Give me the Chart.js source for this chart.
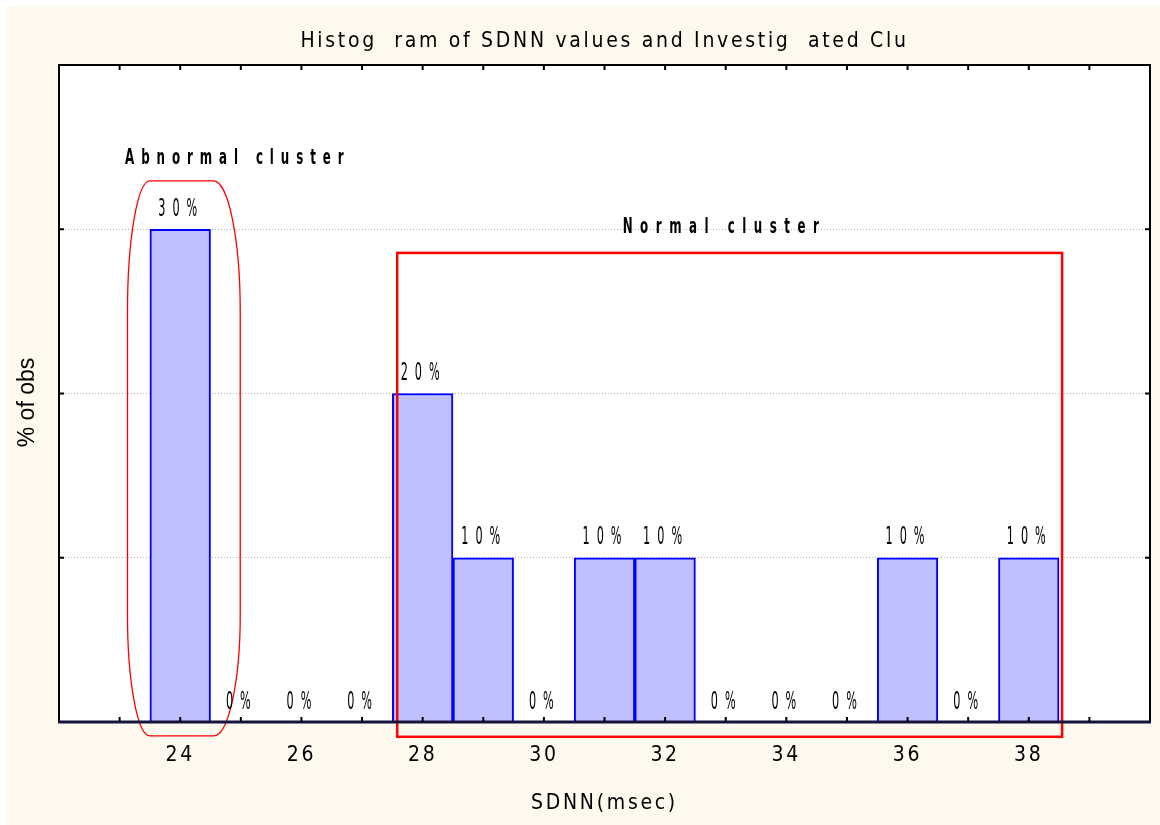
<!DOCTYPE html>
<html>
<head>
<meta charset="utf-8">
<title>SDNN histogram</title>
<script src="https://cdn.jsdelivr.net/npm/chart.js@4.4.1/dist/chart.umd.min.js"></script>
<style>
  html, body { margin: 0; padding: 0; background: #ffffff; }
  #panel {
    position: absolute; left: 7px; top: 6px;
    width: 1153px; height: 819px;
    background: #fdf9ef;
  }
  canvas { display: block; }
</style>
</head>
<body>
<div id="panel"><canvas id="chart" width="1153" height="819"></canvas></div>
<script>
// SDNN bins (msec) and the share of observations falling in each bin
const binCenters = [24, 25, 26, 27, 28, 29, 30, 31, 32, 33, 34, 35, 36, 37, 38];
const percentObs = [30, 0, 0, 0, 20, 10, 0, 10, 10, 0, 0, 0, 10, 0, 10];

// Axis settings
const xRange = [22, 40];
const xTickLabels = [24, 26, 28, 30, 32, 34, 36, 38];
const yRange = [0, 40];
const yGridValues = [10, 20, 30];

// Text
const chartTitle = 'Histog  ram of SDNN values and Investig  ated Clu';
const xAxisTitle = 'SDNN(msec)';
const yAxisTitle = '% of obs';
const abnormalLabel = 'Abnormal cluster';
const normalLabel = 'Normal cluster';

// Cluster outlines, in data units (x = SDNN, y = % of obs)
const abnormalX = [23.13, 23.5, 24.55, 24.99];   // outer left, flat left, flat right, outer right
const abnormalY = [-0.85, 6.5, 25.0, 32.95];     // bottom, lower shoulder, upper shoulder, top
const normalX = [27.58, 38.55];
const normalY = [-0.9, 28.56];
const abnormalLabelPos = [23.09, 34.3];
const normalLabelPos = [31.3, 30.15];

const NARROW = '"Liberation Sans Narrow", "Arial Narrow", "DejaVu Sans Condensed", sans-serif';
const REGULAR = '"Liberation Sans", Arial, sans-serif';

// Tall, squeezed lettering for annotation text
function drawSqueezed(ctx, text, x, y, font, spacing, squeeze, align) {
  ctx.save();
  ctx.font = font;
  ctx.letterSpacing = spacing + 'px';
  ctx.textAlign = align;
  ctx.textBaseline = 'middle';
  ctx.translate(x, y);
  ctx.scale(squeeze, 1);
  ctx.fillText(text, 0, 0);
  ctx.restore();
}

const plotBackground = {
  id: 'plotBackground',
  beforeDraw(chart) {
    const { ctx, chartArea: a } = chart;
    ctx.save();
    ctx.fillStyle = '#ffffff';
    ctx.fillRect(a.left, a.top, a.right - a.left, a.bottom - a.top);
    ctx.restore();
    ctx.letterSpacing = '2.7px';
  }
};

const decorations = {
  id: 'decorations',
  afterDatasetsDraw(chart) {
    const { ctx, chartArea: a, scales: { x, y } } = chart;
    ctx.save();

    // abnormal cluster: rounded capsule around the 24 msec bin
    const xl = x.getPixelForValue(abnormalX[0]), xfl = x.getPixelForValue(abnormalX[1]);
    const xfr = x.getPixelForValue(abnormalX[2]), xr = x.getPixelForValue(abnormalX[3]);
    const yb = y.getPixelForValue(abnormalY[0]), ylo = y.getPixelForValue(abnormalY[1]);
    const yhi = y.getPixelForValue(abnormalY[2]), yt = y.getPixelForValue(abnormalY[3]);
    ctx.beginPath();
    ctx.moveTo(xfl, yt);
    ctx.lineTo(xfr, yt);
    ctx.ellipse(xfr, yhi, xr - xfr, yhi - yt, 0, -Math.PI / 2, 0);
    ctx.lineTo(xr, ylo);
    ctx.ellipse(xfr, ylo, xr - xfr, yb - ylo, 0, 0, Math.PI / 2);
    ctx.lineTo(xfl, yb);
    ctx.ellipse(xfl, ylo, xfl - xl, yb - ylo, 0, Math.PI / 2, Math.PI);
    ctx.lineTo(xl, yhi);
    ctx.ellipse(xfl, yhi, xfl - xl, yhi - yt, 0, Math.PI, Math.PI * 1.5);
    ctx.closePath();
    ctx.strokeStyle = '#ff0000';
    ctx.lineWidth = 1.3;
    ctx.stroke();

    // normal cluster: rectangle around the 28-38 msec bins
    const nx0 = x.getPixelForValue(normalX[0]), nx1 = x.getPixelForValue(normalX[1]);
    const ny0 = y.getPixelForValue(normalY[0]), ny1 = y.getPixelForValue(normalY[1]);
    ctx.lineWidth = 2.5;
    ctx.strokeRect(nx0, ny1, nx1 - nx0, ny0 - ny1);

    // plot frame
    ctx.strokeStyle = '#000000';
    ctx.lineWidth = 2;
    ctx.strokeRect(a.left, a.top, a.right - a.left, a.bottom - a.top);
    ctx.strokeStyle = '#14143c';
    ctx.lineWidth = 3;
    ctx.beginPath();
    ctx.moveTo(a.left - 1, a.bottom);
    ctx.lineTo(a.right + 1, a.bottom);
    ctx.stroke();

    // inward tick marks on all four sides
    ctx.strokeStyle = '#000000';
    ctx.lineWidth = 2;
    ctx.beginPath();
    x.ticks.forEach(t => {
      if (t.value <= xRange[0] || t.value >= xRange[1]) return;
      const px = x.getPixelForValue(t.value);
      ctx.moveTo(px, a.bottom); ctx.lineTo(px, a.bottom - 5);
      ctx.moveTo(px, a.top); ctx.lineTo(px, a.top + 5);
    });
    y.ticks.forEach(t => {
      if (t.value <= yRange[0] || t.value >= yRange[1]) return;
      const py = y.getPixelForValue(t.value);
      ctx.moveTo(a.left, py); ctx.lineTo(a.left + 5, py);
      ctx.moveTo(a.right, py); ctx.lineTo(a.right - 5, py);
    });
    ctx.stroke();

    // value labels above each bin
    ctx.fillStyle = '#000000';
    const meta = chart.getDatasetMeta(0);
    meta.data.forEach((bar, i) => {
      drawSqueezed(ctx, percentObs[i] + '%', bar.x + 1, bar.y - 20,
        '25px ' + NARROW, 14, 0.5, 'center');
    });

    // cluster names
    drawSqueezed(ctx, abnormalLabel, x.getPixelForValue(abnormalLabelPos[0]), y.getPixelForValue(abnormalLabelPos[1]),
      'bold 22px ' + NARROW, 11.5, 0.6, 'left');
    drawSqueezed(ctx, normalLabel, x.getPixelForValue(normalLabelPos[0]), y.getPixelForValue(normalLabelPos[1]),
      'bold 22px ' + NARROW, 12.5, 0.6, 'left');

    ctx.restore();
  },
  afterDraw(chart) {
    const { ctx, chartArea: a } = chart;
    ctx.save();
    ctx.letterSpacing = '0px';
    ctx.font = '23px ' + REGULAR;
    ctx.fillStyle = '#000000';
    ctx.textAlign = 'center';
    ctx.textBaseline = 'middle';
    ctx.translate(21, (a.top + a.bottom) / 2 + 9);
    ctx.rotate(-Math.PI / 2);
    ctx.fillText(yAxisTitle, 0, 0);
    ctx.restore();
  }
};

new Chart(document.getElementById('chart'), {
  type: 'bar',
  data: {
    datasets: [{
      data: binCenters.map((c, i) => ({ x: c, y: percentObs[i] })),
      backgroundColor: '#c0c0ff',
      borderColor: '#0000ff',
      borderWidth: 2,
      barPercentage: 1,
      categoryPercentage: 1
    }]
  },
  options: {
    responsive: false,
    devicePixelRatio: 1,
    animation: false,
    layout: { padding: 0 },
    plugins: {
      legend: { display: false },
      tooltip: { enabled: false },
      title: {
        display: true,
        fullSize: false,
        text: chartTitle,
        color: '#000000',
        font: { family: NARROW, size: 21, weight: 'normal', lineHeight: 1.2 },
        padding: { top: 23, bottom: 10.8 }
      }
    },
    scales: {
      x: {
        type: 'linear',
        min: xRange[0],
        max: xRange[1],
        offset: false,
        grid: { display: false },
        border: { display: false },
        ticks: {
          stepSize: 1,
          autoSkip: false,
          maxRotation: 0,
          padding: 13,
          color: '#000000',
          font: { family: NARROW, size: 21 },
          callback: v => xTickLabels.includes(v) ? String(v) : ''
        },
        title: {
          display: true,
          text: xAxisTitle,
          color: '#000000',
          font: { family: NARROW, size: 21, lineHeight: 1.2 },
          padding: { top: 0, bottom: 9 }
        },
        afterFit(s) {
          s.height = 103;
          s.paddingLeft = 0;
          s.paddingRight = 10;
        }
      },
      y: {
        min: yRange[0],
        max: yRange[1],
        ticks: { display: false, stepSize: 10 },
        grid: {
          drawTicks: false,
          lineWidth: 1,
          color: c => yGridValues.includes(c.tick.value) ? '#b4b4b4' : 'rgba(0,0,0,0)'
        },
        border: { display: false, dash: [1, 2] },
        afterFit(s) { s.width = 52; }
      }
    }
  },
  plugins: [plotBackground, decorations]
});
</script>
</body>
</html>
